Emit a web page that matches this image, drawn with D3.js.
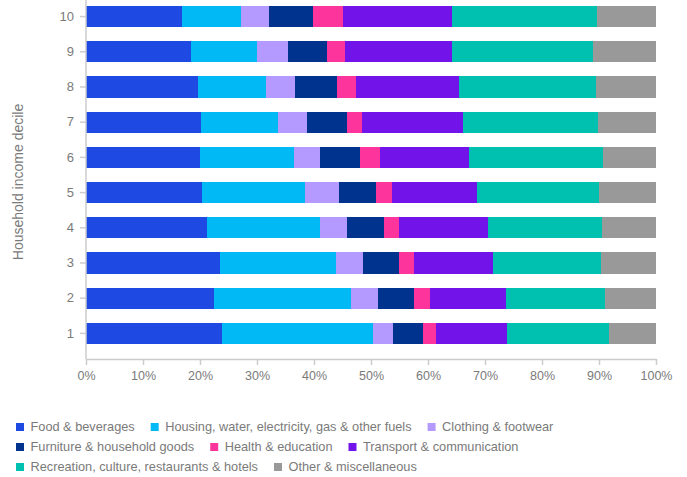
<!DOCTYPE html>
<html>
<head>
<meta charset="utf-8">
<script src="https://cdn.jsdelivr.net/npm/d3@7"></script>
<style>
  html, body { margin: 0; padding: 0; background: #fff; }
  svg { display: block; font-family: "Liberation Sans", Arial, sans-serif; }
</style>
</head>
<body>
<svg id="chart" width="687" height="477"></svg>
<script>
// Household income deciles, bottom (1) to top (10)
const deciles = ["1", "2", "3", "4", "5", "6", "7", "8", "9", "10"];

// Spending categories, in stacking order
const categories = [
  "Food & beverages",
  "Housing, water, electricity, gas & other fuels",
  "Clothing & footwear",
  "Furniture & household goods",
  "Health & education",
  "Transport & communication",
  "Recreation, culture, restaurants & hotels",
  "Other & miscellaneous"
];

// Share of household spending (%), decile 1 to 10
const food       = [23.9, 22.5, 23.5, 21.2, 20.4, 20.0, 20.2, 19.6, 18.4, 16.8];
const housing    = [26.5, 24.0, 20.4, 19.9, 18.0, 16.5, 13.5, 12.0, 11.6, 10.4];
const clothing   = [3.5, 4.7, 4.7, 4.7, 6.0, 4.6, 5.1, 5.1, 5.4, 4.9];
const furniture  = [5.2, 6.3, 6.3, 6.5, 6.5, 7.0, 7.0, 7.3, 6.9, 7.7];
const health     = [2.3, 2.9, 2.6, 2.6, 2.8, 3.5, 2.6, 3.4, 3.1, 5.3];
const transport  = [12.5, 13.3, 13.9, 15.6, 14.9, 15.6, 17.7, 18.0, 18.8, 19.1];
const recreation = [17.9, 17.4, 19.0, 20.0, 21.4, 23.5, 23.7, 24.1, 24.7, 25.4];
const other      = [8.2, 8.9, 9.6, 9.5, 10.0, 9.3, 10.2, 10.5, 11.1, 10.4];

const xTicks = [0, 10, 20, 30, 40, 50, 60, 70, 80, 90, 100];

const colors = ["#1e49e2", "#00b9f5", "#b499ff", "#00338d", "#fd349c", "#7213ea", "#00c1af", "#999999"];

// Legend rows (indices into categories)
const legendRows = [[0, 1, 2], [3, 4, 5], [6, 7]];

const series = [food, housing, clothing, furniture, health, transport, recreation, other];

const rows = deciles.map((d, i) => {
  const r = { decile: d };
  categories.forEach((c, k) => { r[c] = series[k][i]; });
  return r;
});

const stacked = d3.stack().keys(categories)(rows);

const svg = d3.select("#chart");
const left = 86, right = 656, axisY = 359;
const textColor = "#7a7a7a", axisColor = "#cccccc";

const x = d3.scaleLinear().domain([0, 100]).range([left, right]);
const y = d3.scaleBand()
  .domain(deciles.slice().reverse())
  .range([-1.04, 351])
  .paddingInner(0.4)
  .paddingOuter(0.2);

const color = d3.scaleOrdinal().domain(categories).range(colors);

// Bars
svg.append("g")
  .selectAll("g")
  .data(stacked)
  .join("g")
  .attr("fill", s => color(s.key))
  .selectAll("rect")
  .data(s => s)
  .join("rect")
  .attr("x", d => x(d[0]))
  .attr("width", d => x(d[1]) - x(d[0]))
  .attr("y", d => y(d.data.decile))
  .attr("height", y.bandwidth())
  .attr("shape-rendering", "crispEdges");

// X axis
const xAxis = svg.append("g")
  .attr("transform", `translate(0,${axisY})`)
  .call(d3.axisBottom(x).tickValues(xTicks).tickSize(6).tickSizeOuter(0).tickFormat(d => d + "%"));
xAxis.select(".domain").attr("stroke", axisColor).attr("stroke-width", 1.5);
xAxis.selectAll(".tick line").attr("stroke", axisColor).attr("stroke-width", 1.5);
xAxis.selectAll(".tick text")
  .attr("fill", textColor)
  .attr("font-size", "12.5px")
  .attr("font-family", "Liberation Sans, Arial, sans-serif")
  .attr("dy", "0.95em");

// Y axis
const yAxis = svg.append("g")
  .attr("transform", `translate(${left},0)`)
  .call(d3.axisLeft(y).tickSize(6).tickPadding(6).tickSizeOuter(0));
yAxis.select(".domain").remove();
yAxis.append("line")
  .attr("x1", 0).attr("x2", 0).attr("y1", 0).attr("y2", axisY)
  .attr("stroke", axisColor).attr("stroke-width", 1.5);
yAxis.selectAll(".tick line").attr("stroke", axisColor).attr("stroke-width", 1.5);
yAxis.selectAll(".tick text")
  .attr("fill", textColor)
  .attr("font-size", "13px")
  .attr("font-family", "Liberation Sans, Arial, sans-serif");

// Y axis title
svg.append("text")
  .attr("transform", `translate(23,182) rotate(-90)`)
  .attr("text-anchor", "middle")
  .attr("fill", textColor)
  .attr("font-size", "14px")
  .text("Household income decile");

// Legend
const legend = svg.append("g");
legendRows.forEach((row, ri) => {
  let cx = 16;
  const cy = 427 + ri * 20;
  row.forEach(k => {
    legend.append("rect")
      .attr("x", cx).attr("y", cy - 4)
      .attr("width", 8).attr("height", 8)
      .attr("fill", colors[k]);
    const t = legend.append("text")
      .attr("x", cx + 14.5).attr("y", cy)
      .attr("dy", "0.35em")
      .attr("fill", textColor)
      .attr("font-size", "12.75px")
      .text(categories[k]);
    cx += 14.5 + t.node().getComputedTextLength() + 16;
  });
});
</script>
</body>
</html>
